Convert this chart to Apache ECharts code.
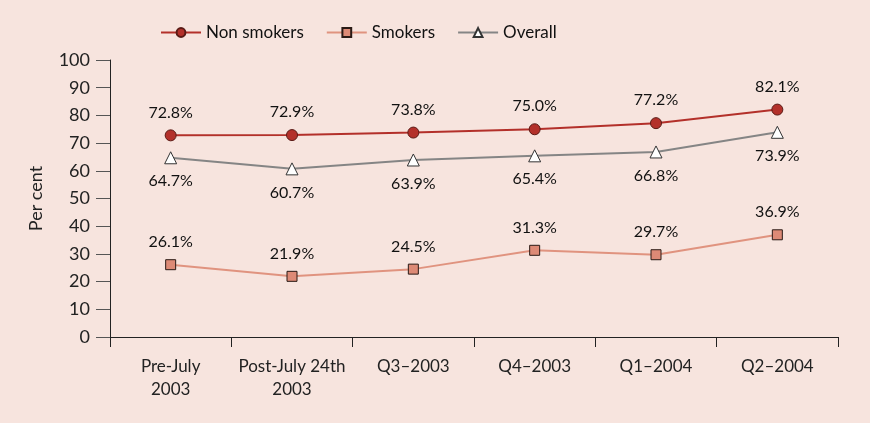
<!DOCTYPE html>
<html>
<head>
<meta charset="utf-8">
<script src="https://cdn.jsdelivr.net/npm/echarts@6/dist/echarts.min.js"></script>
<style>
  html, body { margin: 0; padding: 0; background: #f7e4de; }
  #main { width: 870px; height: 423px; }
</style>
</head>
<body>
<div id="main"></div>
<script>
const categories = ['Pre-July\n2003', 'Post-July 24th\n2003', 'Q3\u20132003', 'Q4\u20132003', 'Q1\u20132004', 'Q2\u20132004']
const nonSmokers = [72.8, 72.9, 73.8, 75.0, 77.2, 82.1]
const smokers = [26.1, 21.9, 24.5, 31.3, 29.7, 36.9]
const overall = [64.7, 60.7, 63.9, 65.4, 66.8, 73.9]

const font = 'Lato, "Open Sans", sans-serif'
const myChart = echarts.init(document.getElementById('main'))

function pct(p) {
  return p.value.toFixed(1) + '%'
}

const labelStyle = {
  show: true,
  formatter: pct,
  color: '#111',
  fontSize: 16,
  fontFamily: font,
  distance: 9,
}

var option = {
  backgroundColor: '#f7e4de',
  textStyle: { fontFamily: font },
  legend: {
    top: 19,
    left: 155,
    itemWidth: 40,
    itemHeight: 11,
    itemGap: 22,
    textStyle: { fontSize: 17, color: '#111', fontFamily: font },
    data: ['Non smokers', 'Smokers', 'Overall'],
  },
  grid: { left: 110, right: 32, top: 60, bottom: 86 },
  xAxis: {
    type: 'category',
    data: categories,
    boundaryGap: true,
    axisLine: { lineStyle: { color: '#222', width: 1 } },
    axisTick: { show: true, interval: 0, length: 10, lineStyle: { color: '#222' } },
    axisLabel: { interval: 0, color: '#222', fontSize: 17, fontFamily: font, margin: 18, lineHeight: 23 },
  },
  yAxis: {
    type: 'value',
    min: 0,
    max: 100,
    interval: 10,
    name: 'Per cent',
    nameLocation: 'middle',
    nameGap: 65,
    nameTextStyle: { color: '#222', fontSize: 18, fontFamily: font },
    axisLine: { show: true, lineStyle: { color: '#222', width: 1 } },
    axisTick: { show: true, length: 14, lineStyle: { color: '#555' } },
    axisLabel: { color: '#222', fontSize: 18, fontFamily: font, margin: 20 },
    splitLine: { show: false },
  },
  series: [
    {
      name: 'Non smokers',
      type: 'line',
      data: nonSmokers,
      symbol: 'circle',
      symbolSize: 11,
      lineStyle: { color: '#b3302a', width: 2 },
      itemStyle: { color: '#b3302a', borderColor: '#5a1a15', borderWidth: 1 },
      label: Object.assign({}, labelStyle, { position: 'top' }),
    },
    {
      name: 'Smokers',
      type: 'line',
      data: smokers,
      symbol: 'rect',
      symbolSize: 10,
      lineStyle: { color: '#e0937f', width: 2 },
      itemStyle: { color: '#dd8a76', borderColor: '#2a1a15', borderWidth: 1 },
      label: Object.assign({}, labelStyle, { position: 'top' }),
    },
    {
      name: 'Overall',
      type: 'line',
      data: overall,
      symbol: 'triangle',
      symbolSize: 12,
      lineStyle: { color: '#858585', width: 2 },
      itemStyle: { color: '#ffffff', borderColor: '#333', borderWidth: 1 },
      label: Object.assign({}, labelStyle, { position: 'bottom' }),
    },
  ],
}

myChart.setOption(option)
</script>
</body>
</html>
